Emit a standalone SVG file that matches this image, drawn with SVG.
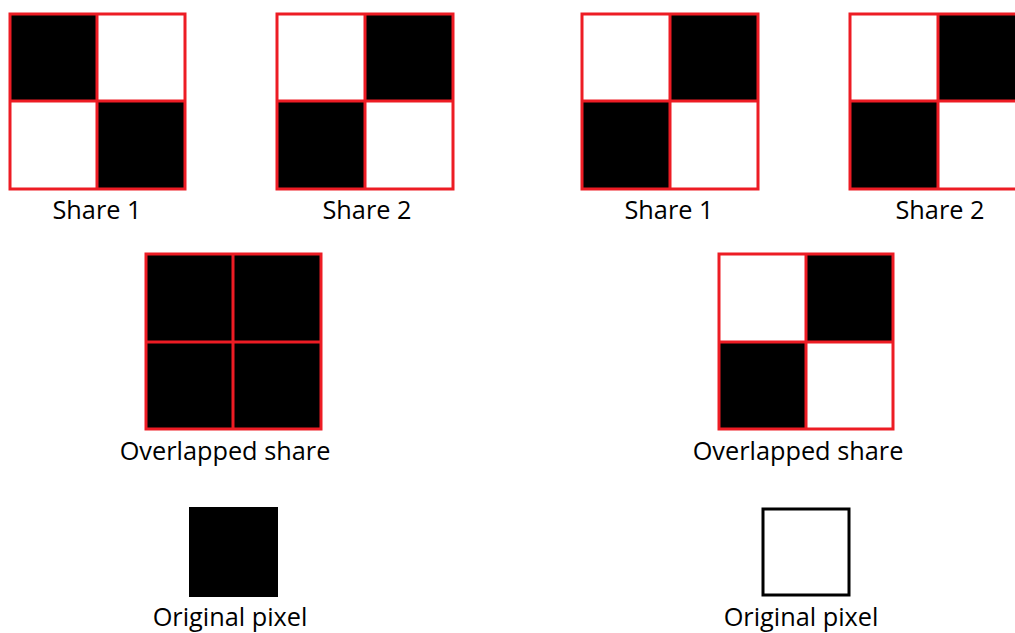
<svg xmlns="http://www.w3.org/2000/svg" width="1015" height="633" viewBox="0 0 1015 633">
<style>
.b{fill:#000}
.w{fill:#fff}
.g{fill:none;stroke:#ED1C24;stroke-width:3}
.px{stroke:#000;stroke-width:3}
.t{font-family:"Open Sans","Noto Sans",sans-serif;font-size:25.3px;fill:#000;text-anchor:middle}
</style>
<rect width="1015" height="633" fill="#fff"/>
<g id="share1-left">
<rect class="b" x="10" y="14" width="87" height="87"/>
<rect class="b" x="97" y="101" width="88" height="88"/>
<path class="g" d="M10 14H185V189H10Z M97 14V189 M10 101H185"/>
<text class="t" x="97" y="219">Share 1</text>
</g>
<g id="share2-left">
<rect class="b" x="365" y="14" width="88" height="87"/>
<rect class="b" x="277" y="101" width="88" height="88"/>
<path class="g" d="M277 14H453V189H277Z M365 14V189 M277 101H453"/>
<text class="t" x="367" y="219">Share 2</text>
</g>
<g id="share1-right">
<rect class="b" x="670" y="14" width="88" height="87"/>
<rect class="b" x="582" y="101" width="88" height="88"/>
<path class="g" d="M582 14H758V189H582Z M670 14V189 M582 101H758"/>
<text class="t" x="669" y="219">Share 1</text>
</g>
<g id="share2-right">
<rect class="b" x="938" y="14" width="88" height="87"/>
<rect class="b" x="850" y="101" width="88" height="88"/>
<path class="g" d="M850 14H1026V189H850Z M938 14V189 M850 101H1026"/>
<text class="t" x="940" y="219">Share 2</text>
</g>
<g id="overlap-left">
<rect class="b" x="146" y="254" width="175" height="175"/>
<path class="g" d="M146 254H321V429H146Z M233 254V429 M146 342H321"/>
<text class="t" x="225" y="460">Overlapped share</text>
</g>
<g id="overlap-right">
<rect class="b" x="806" y="254" width="87" height="88"/>
<rect class="b" x="719" y="342" width="87" height="87"/>
<path class="g" d="M719 254H893V429H719Z M806 254V429 M719 342H893"/>
<text class="t" x="798" y="460">Overlapped share</text>
</g>
<g id="pixel-left">
<rect class="b" x="189" y="507" width="89" height="90"/>
<text class="t" x="230" y="626">Original pixel</text>
</g>
<g id="pixel-right">
<rect class="w px" x="763" y="509" width="86" height="86"/>
<text class="t" x="801" y="626">Original pixel</text>
</g>
<g id="connectors"/>
</svg>
